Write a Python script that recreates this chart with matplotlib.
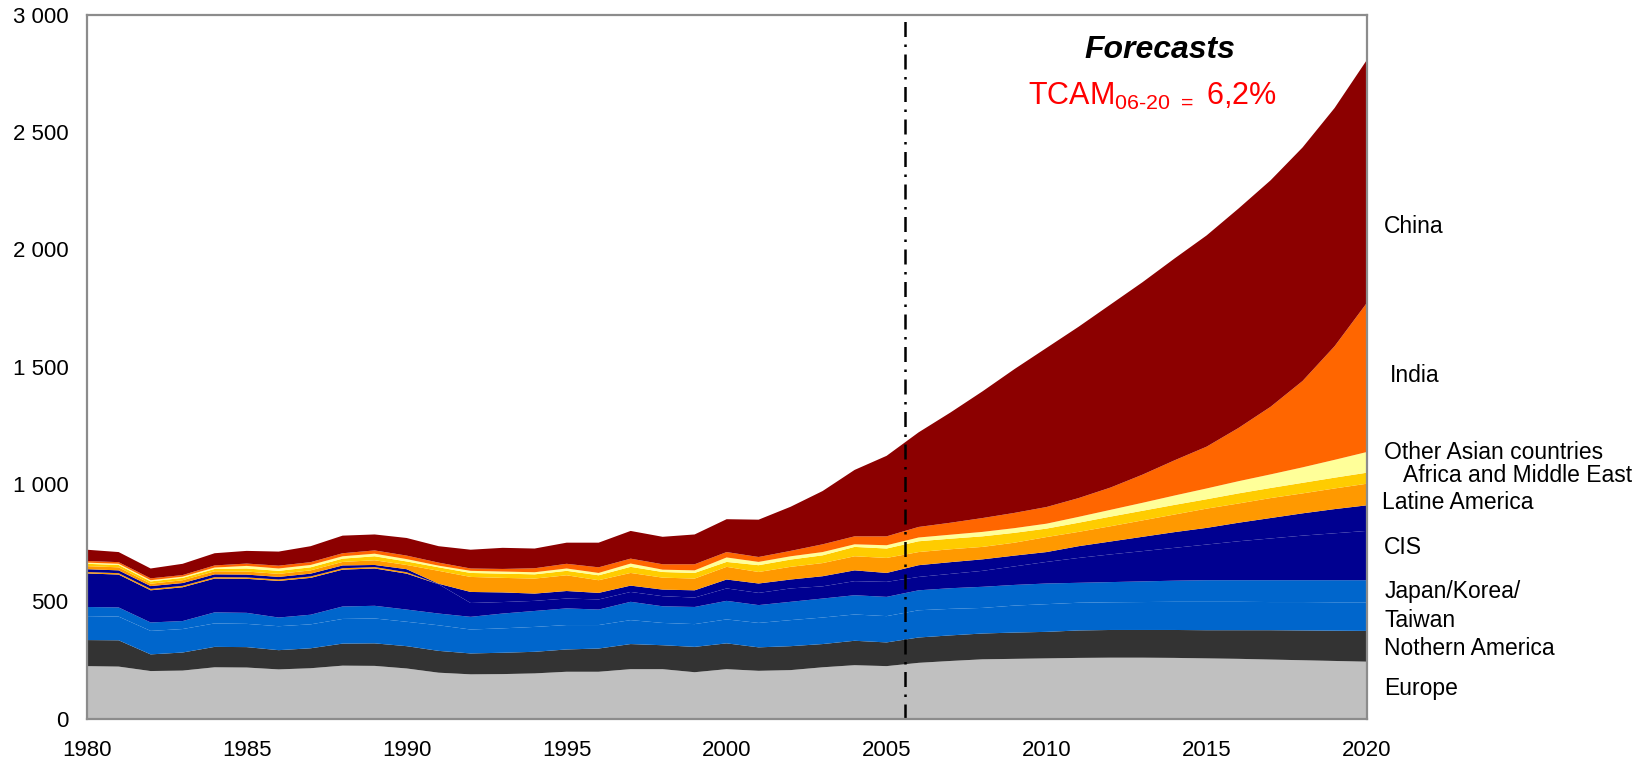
import matplotlib
matplotlib.use('Agg')
import matplotlib.pyplot as plt
import numpy as np

plt.rcParams['font.family'] = ['Liberation Sans', 'DejaVu Sans']
plt.rcParams['mathtext.fontset'] = 'custom'
plt.rcParams['mathtext.rm'] = 'Liberation Sans'

# ---- data (1980 -> 2020) ----
years = list(range(1980, 2021))

europe = [224, 222, 203, 205, 219, 218, 210, 215, 226, 225, 214, 196, 189, 190, 193, 200, 200, 211, 211, 198,
          211, 204, 207, 219, 228, 224, 238, 246, 253, 255, 257, 259, 260, 260, 259, 257, 255, 252, 249, 246, 243]
n_america = [111, 112, 71, 77, 87, 87, 82, 85, 94, 96, 95, 93, 89, 91, 92, 95, 99, 107, 102, 108,
             110, 100, 102, 99, 104, 101, 108, 109, 110, 112, 113, 117, 118, 118, 119, 120, 122, 125, 127, 129, 131]
japan = [102, 101, 100, 100, 100, 99, 102, 102, 105, 106, 104, 109, 102, 104, 106, 104, 100, 102, 95, 97,
         102, 104, 111, 113, 112, 112, 116, 113, 109, 115, 118, 118, 118, 119, 120, 121, 121, 120, 121, 121, 122]
korea_taiwan = [39, 39, 36, 34, 47, 47, 37, 41, 53, 54, 52, 50, 54, 63, 68, 71, 66, 78, 71, 73,
                79, 76, 78, 81, 82, 82, 85, 88, 90, 88, 88, 85, 86, 88, 90, 92, 92, 93, 93, 94, 94]
cis_a = [143, 140, 137, 144, 144, 145, 156, 157, 157, 159, 153, 125, 59, 49, 43, 42, 43, 42, 43, 40,
         53, 52, 57, 52, 60, 64, 57, 61, 68, 79, 92, 106, 118, 129, 140, 152, 166, 178, 190, 200, 210]
other_pre91 = [6, 6, 6, 6, 6, 6, 6, 6, 6, 6, 6, 0, 0, 0, 0, 0, 0, 0, 0, 0,
               0, 0, 0, 0, 0, 0, 0, 0, 0, 0, 0, 0, 0, 0, 0, 0, 0, 0, 0, 0, 0]
cis_b = [12, 12, 12, 12, 12, 12, 11, 12, 12, 9, 13, 2, 47, 41, 31, 32, 28, 27, 28, 31,
         38, 40, 38, 43, 46, 38, 50, 50, 49, 46, 42, 50, 55, 61, 67, 71, 79, 87, 95, 103, 109]
latin_america = [13, 13, 10, 12, 13, 13, 13, 14, 15, 20, 18, 55, 64, 62, 64, 67, 54, 54, 51, 50,
                 54, 49, 54, 56, 60, 64, 56, 55, 53, 55, 64, 61, 65, 70, 75, 82, 82, 85, 85, 88, 92]
africa_me = [10, 10, 10, 10, 10, 13, 13, 13, 14, 17, 15, 15, 17, 18, 18, 19, 21, 26, 24, 24,
             21, 29, 31, 33, 40, 40, 46, 45, 45, 42, 36, 39, 41, 41, 41, 40, 43, 43, 45, 46, 47]
other_asia = [5, 5, 5, 5, 6, 11, 10, 10, 10, 11, 10, 7, 9, 9, 9, 10, 10, 14, 10, 11,
              19, 14, 14, 14, 11, 14, 16, 17, 19, 20, 21, 25, 29, 34, 40, 46, 52, 58, 66, 76, 88]
india = [7, 7, 8, 7, 9, 10, 12, 12, 13, 14, 15, 13, 10, 11, 17, 20, 24, 21, 23, 26,
         23, 21, 23, 33, 34, 38, 45, 51, 59, 65, 71, 80, 95, 120, 150, 178, 227, 288, 368, 484, 634]
china = [48, 43, 42, 48, 52, 54, 60, 68, 75, 68, 75, 70, 80, 90, 84, 90, 105, 118, 117, 127,
         140, 159, 188, 227, 283, 343, 403, 470, 540, 613, 678, 730, 780, 820, 860, 900, 935, 965, 995, 1015, 1035]

forecast_start = 2005.57

series = [europe, n_america, japan, korea_taiwan, cis_a, other_pre91, cis_b,
          latin_america, africa_me, other_asia, india, china]
colors = ['#C0C0C0', '#333333', '#0066CC', '#0066CC', '#000090', '#FF9900', '#000090',
          '#FF9900', '#FFCC00', '#FFFF99', '#FF6600', '#8C0000']

# label text, x (year), y (value)
labels = [
    ('China', 2020.55, 2097),
    ('India', 2020.73, 1462),
    ('Other Asian countries', 2020.55, 1134),
    ('Africa and Middle East', 2021.15, 1037),
    ('Latine America', 2020.48, 920),
    ('CIS', 2020.55, 730),
    ('Japan/Korea/', 2020.55, 543),
    ('Taiwan', 2020.55, 418),
    ('Nothern America', 2020.55, 297),
    ('Europe', 2020.55, 128),
]

fig = plt.figure(figsize=(16.38, 7.61), dpi=100)
ax = fig.add_axes([0.0529, 0.0556, 0.7814, 0.9252])

ax.stackplot(years, *series, colors=colors, linewidth=0)

# start of the forecast period
ax.axvline(forecast_start, color='black', lw=1.8, linestyle=(0, (6, 3, 1, 3)))

ax.set_xlim(1980, 2020)
ax.set_ylim(0, 3000)
ax.set_xticks(range(1980, 2021, 5))
ax.set_yticks(range(0, 3001, 500))
ax.set_yticklabels([f"{v:,}".replace(',', ' ') for v in range(0, 3001, 500)])
ax.tick_params(axis='both', length=0, labelsize=16)
ax.tick_params(axis='x', pad=15)
ax.tick_params(axis='y', pad=13)
for side in ['left', 'top', 'right', 'bottom']:
    ax.spines[side].set_color('#8C8C8C')
    ax.spines[side].set_linewidth(1.6)

for text, x, y in labels:
    ax.text(x, y, text, fontsize=16.5, ha='left', va='center', clip_on=False)

ax.text(2013.55, 2849, 'Forecasts', fontsize=23, fontweight='bold', fontstyle='italic',
        ha='center', va='center')
ax.text(2013.3, 2652, r'TCAM$_{\mathregular{06\text{-}20\ {=}}}$ 6,2%', fontsize=22, color='#FF0000',
        ha='center', va='center')

fig.savefig('out.png', dpi=100)
